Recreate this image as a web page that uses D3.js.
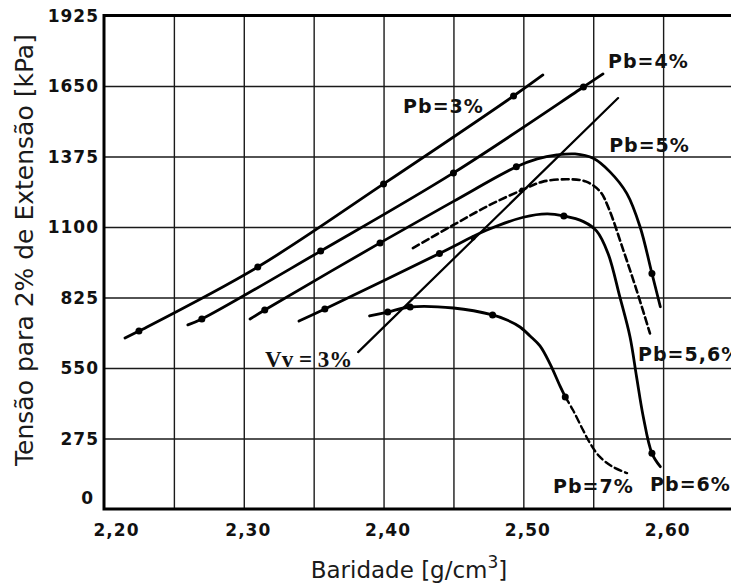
<!DOCTYPE html>
<html>
<head>
<meta charset="utf-8">
<script src="https://cdn.jsdelivr.net/npm/d3@7"></script>
<style>
    body { margin: 0; background: #fff; }
    svg { display: block; }
</style>
</head>
<body>
<div id="chart"></div>
<script>
// Axis values
const xTicks = [2.20, 2.30, 2.40, 2.50, 2.60];
const xGrid = [2.25, 2.30, 2.35, 2.40, 2.45, 2.50, 2.55, 2.60];
const yTicks = [0, 275, 550, 825, 1100, 1375, 1650, 1925];

// Curves as [baridade, tensão] pairs
const pb3 = [[2.215, 667], [2.225, 694], [2.310, 944], [2.400, 1268], [2.493, 1611], [2.514, 1693]];
const pb3Marks = [[2.225, 694], [2.310, 944], [2.400, 1268], [2.493, 1611]];

const pb4 = [[2.260, 718], [2.270, 741], [2.355, 1006], [2.450, 1311], [2.543, 1646], [2.557, 1697]];
const pb4Marks = [[2.270, 741], [2.355, 1006], [2.450, 1311], [2.543, 1646]];

const pb5 = [[2.3045, 741], [2.315, 776], [2.3975, 1038], [2.450, 1200], [2.495, 1335], [2.510, 1366],
    [2.524, 1381], [2.537, 1385], [2.550, 1368], [2.562, 1315], [2.574, 1231], [2.5835, 1101],
    [2.592, 919], [2.598, 789]];
const pb5Marks = [[2.315, 776], [2.3975, 1038], [2.495, 1335], [2.592, 919]];

const pb56 = [[2.421, 1018], [2.450, 1108], [2.476, 1186], [2.499, 1244], [2.514, 1277], [2.533, 1286],
    [2.545, 1277], [2.555, 1238], [2.561, 1174], [2.5715, 1010], [2.581, 854], [2.5906, 685]];

const pb6 = [[2.3395, 733], [2.358, 780], [2.440, 997], [2.474, 1088], [2.500, 1138], [2.517, 1151],
    [2.529, 1143], [2.543, 1121], [2.5525, 1084], [2.5606, 997], [2.569, 828], [2.5763, 672],
    [2.581, 516], [2.5858, 360], [2.592, 217], [2.598, 165]];
const pb6Marks = [[2.358, 780], [2.440, 997], [2.529, 1143], [2.592, 217]];

const pb7 = [[2.390, 753], [2.403, 768], [2.419, 788], [2.450, 784], [2.478, 757], [2.4883, 737],
    [2.4976, 710], [2.5048, 675], [2.5119, 636], [2.5191, 566], [2.5262, 480], [2.530, 437]];
const pb7Tail = [[2.530, 437], [2.5355, 386], [2.5427, 308], [2.5477, 257], [2.5548, 203],
    [2.5642, 164], [2.5742, 140]];
const pb7Marks = [[2.403, 768], [2.419, 788], [2.478, 757], [2.530, 437]];

const vv3 = [[2.3818, 612], [2.5678, 1603]];
const vv3Marks = [[2.464, 1057], [2.499, 1244]];

const labelTexts = ["Pb=3%", "Pb=4%", "Pb=5%", "Pb=5,6%", "Pb=7%", "Pb=6%"];
const labelAt = [[2.414, 1545], [2.5606, 1720], [2.5614, 1393], [2.5821, 577], [2.5213, 62], [2.5907, 70]];
const vvLabel = "Vv = 3%";
const vvLabelAt = [2.3152, 554];

// Layout
const width = 731;
const height = 587;
const plotLeft = 104;
const plotTop = 15.5;
const plotBottom = 509;

const x = d3.scaleLinear().domain([2.2, 2.65]).range([plotLeft, 733]);
const y = d3.scaleLinear().domain([0, 1925]).range([plotBottom, plotTop]);

const svg = d3.select("#chart")
    .append("svg")
    .attr("width", width)
    .attr("height", height)
    .style("font-family", "'DejaVu Sans', Verdana, sans-serif");

// Grid
svg.append("g")
    .attr("transform", `translate(0,${plotBottom})`)
    .call(d3.axisBottom(x).tickValues(xGrid).tickSize(-(plotBottom - plotTop)).tickFormat(""))
    .call(g => g.select(".domain").remove())
    .call(g => g.selectAll("line").attr("stroke", "#1a1a1a").attr("stroke-width", 1.4));

svg.append("g")
    .attr("transform", `translate(${plotLeft},0)`)
    .call(d3.axisLeft(y).tickValues(yTicks.slice(1, -1)).tickSize(-(width - plotLeft)).tickFormat(""))
    .call(g => g.select(".domain").remove())
    .call(g => g.selectAll("line").attr("stroke", "#1a1a1a").attr("stroke-width", 1.4));

// Frame (left, top, bottom)
svg.append("path")
    .attr("d", `M${width},${y(1925)}H${x(2.2)}V${y(0)}H${width}`)
    .attr("fill", "none")
    .attr("stroke", "#000")
    .attr("stroke-width", 3);

// Tick labels
const tickStyle = sel => sel
    .attr("fill", "#111")
    .style("font-size", "17px")
    .style("font-weight", "bold")
    .style("letter-spacing", "1px")
    .style("font-family", "'DejaVu Sans', Verdana, sans-serif");

const xAxis = svg.append("g")
    .attr("transform", `translate(0,${plotBottom})`)
    .call(d3.axisBottom(x).tickValues(xTicks).tickSize(0).tickPadding(15)
        .tickFormat(d => d3.format(".2f")(d).replace(".", ",")));
xAxis.select(".domain").remove();
xAxis.selectAll("text")
    .attr("dx", d => d === 2.2 ? 12 : 4)
    .call(tickStyle);

const yAxis = svg.append("g")
    .attr("transform", `translate(${plotLeft},0)`)
    .call(d3.axisLeft(y).tickValues(yTicks).tickSize(0).tickPadding(5).tickFormat(d3.format("d")));
yAxis.select(".domain").remove();
yAxis.selectAll("text")
    .attr("dy", d => d === 0 ? "-0.3em" : "0.35em")
    .attr("x", d => d === 0 ? -10 : -5)
    .call(tickStyle);

// Axis titles
svg.append("text")
    .attr("transform", "translate(33,250) rotate(-90)")
    .attr("text-anchor", "middle")
    .attr("fill", "#1a1a1a")
    .style("font-size", "25px")
    .text("Tensão para 2% de Extensão [kPa]");

const xTitle = svg.append("text")
    .attr("x", 409)
    .attr("y", 578)
    .attr("text-anchor", "middle")
    .attr("fill", "#1a1a1a")
    .style("font-size", "23px");
xTitle.append("tspan").text("Baridade [g/cm");
xTitle.append("tspan").attr("dy", -10).style("font-size", "17px").text("3");
xTitle.append("tspan").attr("dy", 10).text("]");

// Curves
const line = d3.line()
    .x(d => x(d[0]))
    .y(d => y(d[1]))
    .curve(d3.curveCatmullRom.alpha(0.5));

const drawCurve = (data, dashed, strokeWidth) => {
    svg.append("path")
        .datum(data)
        .attr("d", line)
        .attr("fill", "none")
        .attr("stroke", "#000")
        .attr("stroke-width", strokeWidth)
        .attr("stroke-linecap", "round")
        .attr("stroke-dasharray", dashed ? "7,4" : null);
};

const drawMarks = (data, r) => {
    svg.append("g")
        .selectAll("circle")
        .data(data)
        .join("circle")
        .attr("cx", d => x(d[0]))
        .attr("cy", d => y(d[1]))
        .attr("r", r)
        .attr("fill", "#000");
};

drawCurve(vv3, false, 2.2);
drawCurve(pb3, false, 2.8);
drawCurve(pb4, false, 2.8);
drawCurve(pb5, false, 2.8);
drawCurve(pb56, true, 2.6);
drawCurve(pb6, false, 2.8);
drawCurve(pb7, false, 2.8);
drawCurve(pb7Tail, true, 2.4);

drawMarks(pb3Marks, 3.5);
drawMarks(pb4Marks, 3.5);
drawMarks(pb5Marks, 3.5);
drawMarks(pb6Marks, 3.5);
drawMarks(pb7Marks, 3.5);
drawMarks(vv3Marks, 2.5);

// Curve labels
svg.append("g")
    .selectAll("text")
    .data(labelTexts)
    .join("text")
    .attr("x", (d, i) => x(labelAt[i][0]))
    .attr("y", (d, i) => y(labelAt[i][1]))
    .attr("fill", "#111")
    .style("font-size", "19px")
    .style("font-weight", "bold")
    .style("letter-spacing", "1px")
    .text(d => d);

svg.append("text")
    .attr("x", x(vvLabelAt[0]))
    .attr("y", y(vvLabelAt[1]))
    .attr("fill", "#111")
    .style("font-family", "'Liberation Serif', 'DejaVu Serif', serif")
    .style("font-size", "23px")
    .style("font-weight", "bold")
    .text(vvLabel);
</script>
</body>
</html>
